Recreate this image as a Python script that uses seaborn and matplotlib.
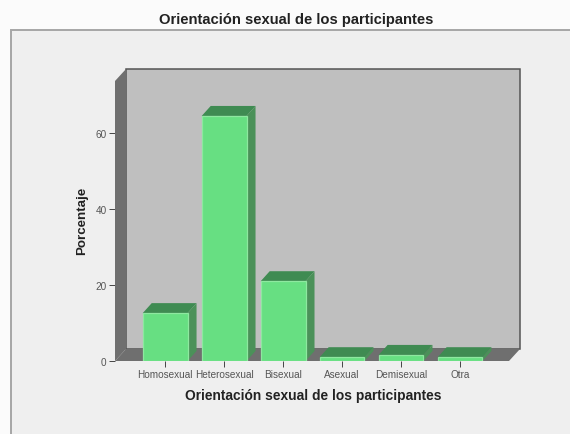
import matplotlib
matplotlib.use("Agg")
import matplotlib.pyplot as plt
from matplotlib.patches import Polygon, Rectangle
import pandas as pd
import seaborn as sns

categorias = ["Homosexual", "Heterosexual", "Bisexual", "Asexual", "Demisexual", "Otra"]
porcentajes = [12.6, 64.5, 21.0, 1.0, 1.6, 1.0]
marcas_y = [0, 20, 40, 60]
titulo = "Orientación sexual de los participantes"
etiqueta_x = "Orientación sexual de los participantes"
etiqueta_y = "Porcentaje"

sns.set_theme(style="white")
plt.rcParams["font.family"] = ["Liberation Sans", "DejaVu Sans"]

W, H = 570, 435
fig = plt.figure(figsize=(W / 100, H / 100), dpi=100, facecolor="#fbfbfb")

# panel behind the chart
bg = fig.add_axes([0, 0, 1, 1], zorder=0)
bg.set_xlim(0, W)
bg.set_ylim(H, 0)
bg.axis("off")
bg.add_patch(Rectangle((11, 31), W, H, fc="#efefef", ec="#a6a6a6", lw=1.4))

# front plane of the plot: x 115..509 px, y 82..362 px
ax = fig.add_axes([115 / W, 1 - 362 / H, 394 / W, 280 / H], zorder=1)
ax.patch.set_alpha(0)
df = pd.DataFrame({"categoria": categorias, "porcentaje": porcentajes})
sns.barplot(data=df, x="categoria", y="porcentaje", color="#67df82", saturation=1,
            width=0.76, edgecolor="#8ee8a0", linewidth=0.9, ax=ax, zorder=6)
x0, x1 = -0.85, 5.83
y1 = 73.7
ax.set_xlim(x0, x1)
ax.set_ylim(0, y1)

px_x = (x1 - x0) / 394
px_y = y1 / 280
DX, DY = 11 * px_x, 12 * px_y        # depth of the box
bx, by = 9 * px_x, 10 * px_y         # depth of the bars


def poly(pts, fc, ec="none", lw=0, z=2):
    ax.add_patch(Polygon(pts, closed=True, fc=fc, ec=ec, lw=lw, zorder=z, clip_on=False))


# box: back wall, left wall and floor
poly([(x0 + DX, DY), (x1 + DX, DY), (x1 + DX, y1 + DY), (x0 + DX, y1 + DY)],
     "#bfbfbf", ec="#555555", lw=1.1, z=1)
poly([(x0, 0), (x0 + DX, DY), (x0 + DX, y1 + DY), (x0, y1)], "#6f6f6f", z=2)
poly([(x0, 0), (x1, 0), (x1 + DX, DY), (x0 + DX, DY)], "#6f6f6f", z=2)

# depth of each bar
for i, v in enumerate(porcentajes):
    left, right = i - 0.38, i + 0.38
    poly([(left, v), (right, v), (right + bx, v + by), (left + bx, v + by)], "#3f8b52", z=4)
    poly([(right, 0), (right + bx, by), (right + bx, v + by), (right, v)], "#4b9159", z=4)

ax.set_yticks(marcas_y)
ax.set_xticks(range(len(categorias)))
ax.set_xticklabels(categorias)
ax.tick_params(axis="both", which="major", length=4, width=0.7, color="#444444",
               labelsize=7.2, labelcolor="#555555", pad=2,
               bottom=True, left=True)
ax.set_xlabel("")
ax.set_ylabel("")
sns.despine(ax=ax, left=True, bottom=True, top=True, right=True)

bg.text(296, 20, titulo, ha="center", va="center", fontsize=10.6, fontweight="bold", color="#222222")
bg.text(313, 396, etiqueta_x, ha="center", va="center", fontsize=9.9, fontweight="bold", color="#222222")
bg.text(82, 221, etiqueta_y, ha="center", va="center", rotation=90, fontsize=9.6,
        fontweight="bold", color="#222222")

fig.savefig("out.png", dpi=100, facecolor=fig.get_facecolor())
